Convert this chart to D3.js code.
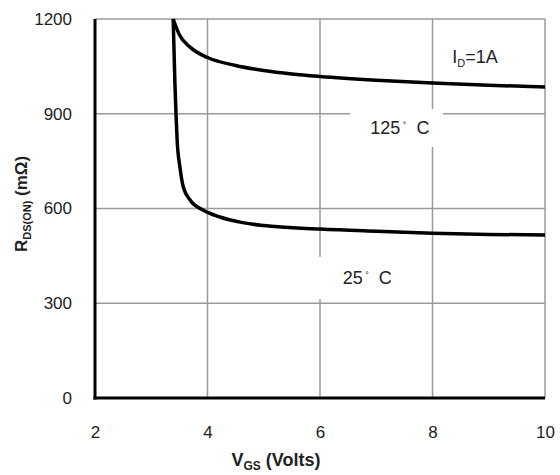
<!DOCTYPE html>
<html>
<head>
<meta charset="utf-8">
<script src="https://cdn.jsdelivr.net/npm/d3@7"></script>
<style>
  body { margin: 0; background: #fff; }
  text { font-family: "Liberation Sans", Arial, sans-serif; fill: #222; white-space: pre; }
</style>
</head>
<body>
<div id="chart"></div>
<script>
// values
const xTicks = [2, 4, 6, 8, 10];
const yTicks = [0, 300, 600, 900, 1200];

// 125 C curve
const vgsHot = [3.39, 3.5, 3.69, 4, 4.5, 5, 5.5, 6, 7, 8, 9, 10];
const rdsHot = [1200, 1150, 1111, 1078, 1053, 1037, 1026, 1018, 1006, 997, 990, 985];

// 25 C curve
const vgsCold = [3.39, 3.42, 3.44, 3.46, 3.51, 3.57, 3.69, 3.92, 4.22, 4.6, 5, 6, 7, 8, 9, 10];
const rdsCold = [1200, 1000, 900, 817, 731, 668, 627, 595, 573, 556, 546, 535, 528, 522, 518, 516];

const width = 560;
const height = 475;
const margin = { top: 19, right: 15, bottom: 77, left: 95 };
const w = width - margin.left - margin.right;
const h = height - margin.top - margin.bottom;

const svg = d3.select('#chart')
    .append('svg')
    .attr('width', width)
    .attr('height', height);

const chart = svg.append('g')
    .attr('transform', `translate(${margin.left},${margin.top})`);

const x = d3.scaleLinear().domain([2, 10]).range([0, w]);
const y = d3.scaleLinear().domain([0, 1200]).range([h, 0]);

// grid
chart.selectAll('.vgrid')
    .data(xTicks.slice(1))
    .enter()
    .append('line')
    .attr('x1', d => x(d)).attr('x2', d => x(d))
    .attr('y1', 0).attr('y2', h)
    .attr('stroke', '#9a9a9a')
    .attr('stroke-width', 1.5);

chart.selectAll('.hgrid')
    .data(yTicks.slice(1))
    .enter()
    .append('line')
    .attr('x1', 0).attr('x2', w)
    .attr('y1', d => y(d)).attr('y2', d => y(d))
    .attr('stroke', '#9a9a9a')
    .attr('stroke-width', 1.5);

// white boxes behind the temperature labels
function labelBox(cx, cy, bw, bh) {
    chart.append('rect')
        .attr('x', x(cx) - bw / 2)
        .attr('y', y(cy) - bh / 2)
        .attr('width', bw)
        .attr('height', bh)
        .attr('fill', '#fff');
}
labelBox(7.36, 855, 93, 38);
labelBox(6.92, 380, 108, 42);

// axes
const xAxis = d3.axisBottom(x).tickValues(xTicks).tickSize(0).tickPadding(28);
chart.append('g')
    .attr('transform', `translate(0,${h})`)
    .call(xAxis)
    .call(g => g.select('.domain').remove())
    .selectAll('text')
    .style('font-size', '17px')
    .style('font-family', '"Liberation Sans", Arial, sans-serif')
    .attr('fill', '#222');

const yAxis = d3.axisLeft(y).tickValues(yTicks).tickFormat(d3.format('d')).tickSize(0).tickPadding(23);
chart.append('g')
    .call(yAxis)
    .call(g => g.select('.domain').remove())
    .selectAll('text')
    .style('font-size', '17px')
    .style('font-family', '"Liberation Sans", Arial, sans-serif')
    .attr('fill', '#222');

chart.append('line')
    .attr('x1', 0).attr('x2', 0).attr('y1', 0).attr('y2', h + 1.5)
    .attr('stroke', '#000').attr('stroke-width', 3);
chart.append('line')
    .attr('x1', -1.5).attr('x2', w).attr('y1', h).attr('y2', h)
    .attr('stroke', '#000').attr('stroke-width', 3);

// curves
const line = d3.line()
    .x(d => x(d[0]))
    .y(d => y(d[1]))
    .curve(d3.curveMonotoneX);

chart.append('path')
    .datum(d3.zip(vgsHot, rdsHot))
    .attr('d', line)
    .attr('fill', 'none')
    .attr('stroke', '#000')
    .attr('stroke-width', 3.5);

chart.append('path')
    .datum(d3.zip(vgsCold, rdsCold))
    .attr('d', line)
    .attr('fill', 'none')
    .attr('stroke', '#000')
    .attr('stroke-width', 3.5);

// labels
function tempLabel(vx, vy, num) {
    const t = chart.append('text')
        .attr('x', x(vx)).attr('y', y(vy) + 6)
        .attr('text-anchor', 'middle')
        .style('font-size', '18px');
    t.append('tspan').text(num);
    t.append('tspan').text(' °').style('font-size', '9px').attr('dy', -6);
    t.append('tspan').text('  C').attr('dy', 6);
}
tempLabel(7.42, 855, '125');
tempLabel(6.84, 380, '25');

const tid = chart.append('text')
    .attr('x', x(8.35)).attr('y', y(1080) + 6)
    .style('font-size', '18px');
tid.append('tspan').text('I');
tid.append('tspan').text('D').style('font-size', '11px').attr('dy', 4);
tid.append('tspan').text('=1A').attr('dy', -4);

// axis titles
const xt = svg.append('text')
    .attr('x', 276)
    .attr('y', 466)
    .attr('text-anchor', 'middle')
    .style('font-size', '18px')
    .style('font-weight', 'bold');
xt.append('tspan').text('V');
xt.append('tspan').text('GS').style('font-size', '12px').attr('dy', 4);
xt.append('tspan').text(' (Volts)').attr('dy', -4);

const yt = svg.append('text')
    .attr('transform', 'translate(27, 204) rotate(-90)')
    .attr('text-anchor', 'middle')
    .style('font-size', '17px')
    .style('font-weight', 'bold');
yt.append('tspan').text('R');
yt.append('tspan').text('DS(ON)').style('font-size', '11px').attr('dy', 4);
yt.append('tspan').text(' (mΩ)').attr('dy', -4);
</script>
</body>
</html>
